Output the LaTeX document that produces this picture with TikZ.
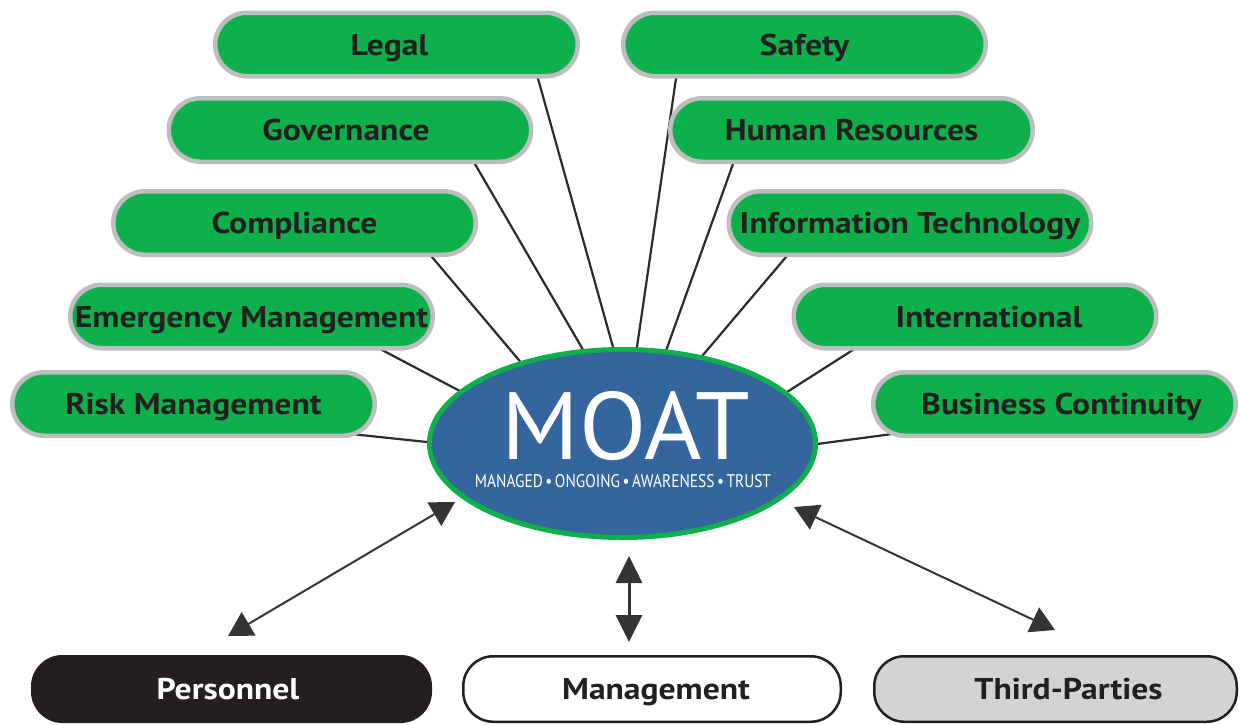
\documentclass[tikz,border=0pt]{standalone}
\usepackage{fontspec}
\setmainfont{PT Sans}[BoldFeatures={FakeStretch=1.12}]
\usetikzlibrary{calc,backgrounds,arrows.meta,shapes.geometric}
\definecolor{boxgreen}{HTML}{0DB04B}
\definecolor{bordergray}{HTML}{BCBEC0}
\definecolor{moatblue}{HTML}{35659D}
\definecolor{moatgreen}{HTML}{0DB04B}
\definecolor{darktext}{HTML}{231F20}
\definecolor{linegray}{HTML}{2B2B2B}
\definecolor{arrowgray}{HTML}{333436}
\definecolor{lightfill}{HTML}{D1D3D4}
\begin{document}
\begin{tikzpicture}[x=1pt,y=-1pt,
  topic/.style={draw=bordergray, line width=4.5pt, fill=boxgreen,
    minimum width=362.5pt, minimum height=63.5pt, rounded corners=31.75pt,
    inner sep=0pt, font=\fontsize{30}{30}\selectfont\bfseries, text=darktext,
    text height=21pt, text depth=0pt},
  party/.style={draw=darktext, line width=2.5pt, minimum height=65.5pt,
    rounded corners=30pt, inner sep=0pt,
    font=\fontsize{30}{30}\selectfont\bfseries, text height=21pt, text depth=0pt},
  conn/.style={draw=linegray, line width=2.2pt, shorten <=-18pt, shorten >=-4pt},
  biarrow/.style={draw=arrowgray, line width=2pt,
    {Triangle[length=24pt,width=27pt]}-{Triangle[length=24pt,width=27pt]}},
  vbiarrow/.style={draw=arrowgray, line width=3pt,
    {Triangle[length=27pt,width=26pt]}-{Triangle[length=27pt,width=26pt]}}
]
\useasboundingbox (0,0) rectangle (1240,724);

% central ellipse
\node[ellipse, draw=moatgreen, line width=5pt, fill=moatblue,
  minimum width=386pt, minimum height=188pt, inner sep=0pt] (moat) at (622.5,443.5) {};
\node[text=white, inner sep=0pt] (moattext) at ($(moat.center)+(0.5,-3.5)$)
  {\vbox{\offinterlineskip
     \hbox to 296pt{\hfil\hspace{6pt}\resizebox{248pt}{68pt}{MOAT}\hfil}
     \kern14pt
     \hbox{\resizebox{296pt}{13pt}{MANAGED\,•\,ONGOING\,•\,AWARENESS\,•\,TRUST}}}};

% topic boxes
\node[topic] (legal) at (396.5,44.5) {\hspace*{-14pt}Legal};
\node[topic] (safety) at (804.5,44.5) {Safety};
\node[topic] (gov) at (350,130) {\hspace*{-8pt}Governance};
\node[topic] (hr) at (851.5,130) {Human Resources};
\node[topic] (comp) at (294.5,223) {Compliance};
\node[topic] (it) at (910,223) {Information Technology};
\node[topic] (em) at (251.5,316.5) {Emergency Management};
\node[topic] (intl) at (975,316.5) {\hspace*{28pt}International};
\node[topic] (risk) at (193.5,404) {Risk Management};
\node[topic] (bc) at (1054.5,404) {\hspace*{14pt}Business Continuity};

% bottom boxes
\node[party, fill=darktext, text=white, minimum width=398.5pt] (personnel) at (231.5,689) {\hspace*{-7pt}Personnel};
\node[party, fill=white, text=darktext, minimum width=377.5pt] (mgmt) at (652,689) {\hspace*{8pt}Management};
\node[party, fill=lightfill, text=darktext, minimum width=362.5pt] (third) at (1055.5,689) {\hspace*{26pt}Third-Parties};

% connectors (behind boxes)
\begin{scope}[on background layer]
\draw[conn] ([xshift=141.5pt]legal.south) -- ($(moat.center)+(-9.5,-96.5)$);
\draw[conn] ([xshift=125pt]gov.south) -- ($(moat.center)+(-40.5,-95.5)$);
\draw[conn] ([xshift=137.5pt]comp.south) -- ($(moat.center)+(-104.5,-84.5)$);
\draw[conn] ([xshift=131.5pt]em.south) -- ($(moat.center)+(-164.5,-53.5)$);
\draw[conn] ([xshift=169.5pt,yshift=2.75pt]risk.south) -- ($(moat.center)+(-195.5,-1.5)$);
\draw[conn] ([xshift=-128.5pt]safety.south) -- ($(moat.center)+(14.5,-96.5)$);
\draw[conn] ([xshift=-118.5pt]hr.south) -- ($(moat.center)+(44.5,-95.5)$);
\draw[conn] ([xshift=-124pt]it.south) -- ($(moat.center)+(80.5,-88.5)$);
\draw[conn] ([xshift=-123pt]intl.south) -- ($(moat.center)+(164.5,-51.5)$);
\draw[conn] ([xshift=-171.5pt,yshift=2.75pt]bc.south) -- ($(moat.center)+(194.5,0.5)$);
\end{scope}

% arrows
\draw[biarrow] ($(moat.center)+(-167.5,58.5)$) -- ($(personnel.north)+(-3.5,-19)$);
\draw[vbiarrow] ($(moat.center)+(6.5,112.5)$) -- ($(mgmt.north)+(-23,-13)$);
\draw[biarrow] ($(moat.center)+(171.5,63.5)$) -- ($(third.north)+(-0.5,-25)$);
\end{tikzpicture}
\end{document}
